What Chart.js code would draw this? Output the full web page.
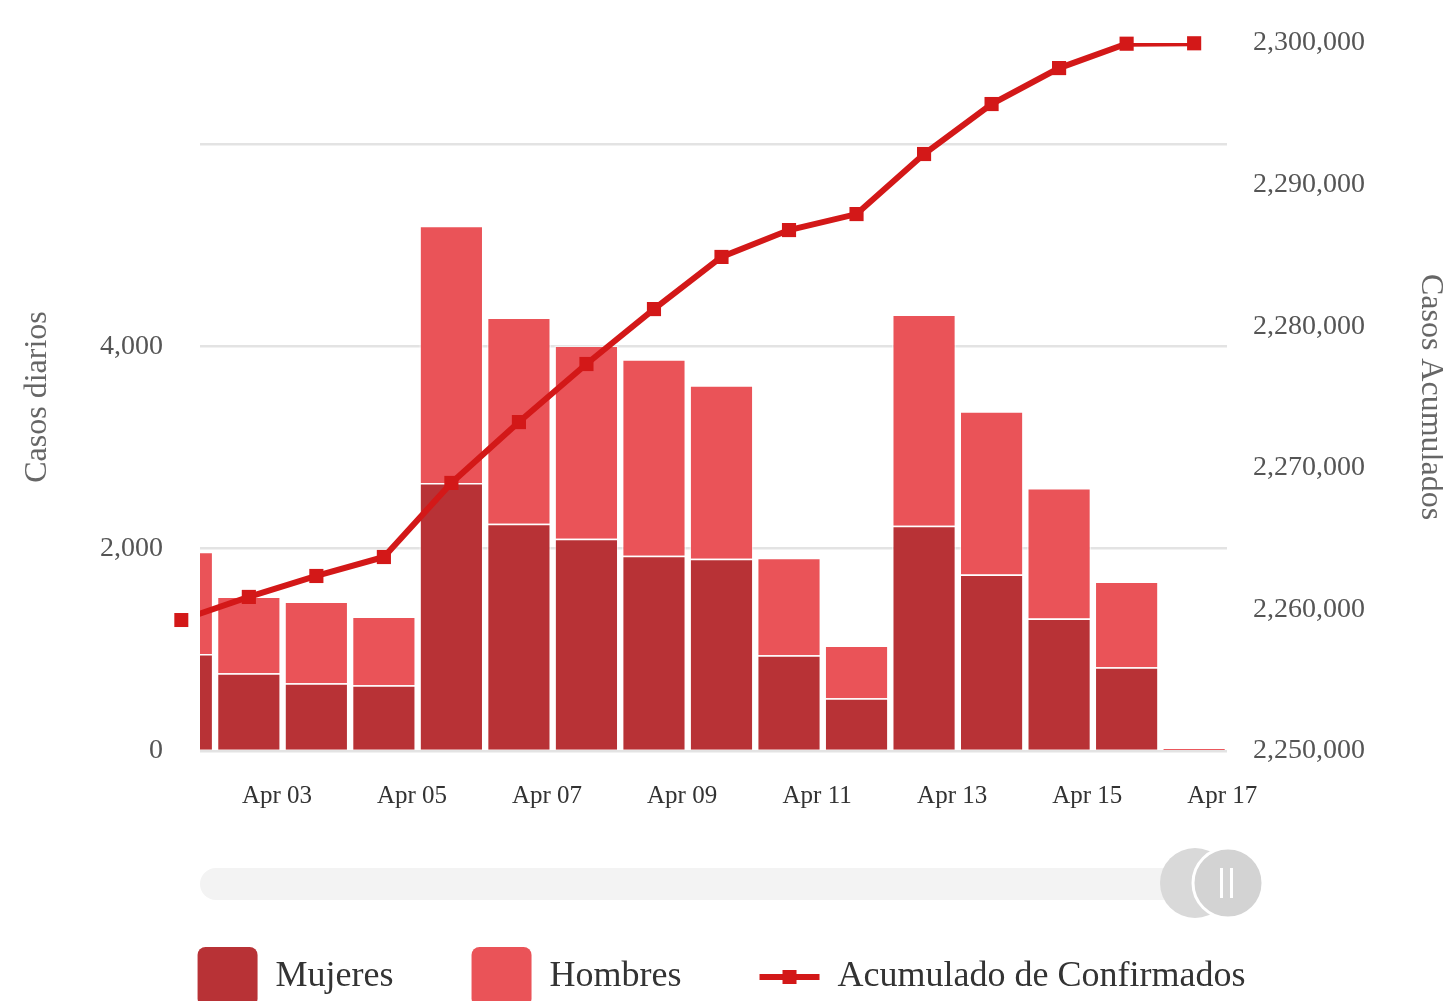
<!DOCTYPE html>
<html>
<head>
<meta charset="utf-8">
<script src="https://cdn.jsdelivr.net/npm/chart.js@4.4.1/dist/chart.umd.min.js"></script>
<style>
  html, body { margin: 0; padding: 0; overflow: hidden; background: #fff; }
  #wrap { position: absolute; left: 0; top: 0; width: 1443px; height: 1017px; }
</style>
</head>
<body>
<div id="wrap"><canvas id="myChart"></canvas></div>
<script>
//DATA (dias de abril)
var dias = [1, 2, 3, 4, 5, 6, 7, 8, 9, 10, 11, 12, 13, 14, 15, 16];
var mujeres = [960, 768, 670, 650, 2650, 2246, 2099, 1931, 1901, 946, 522, 2227, 1744, 1310, 828, 10];
var hombres = [1010, 759, 808, 680, 2542, 2040, 1911, 1941, 1715, 965, 522, 2088, 1616, 1291, 847, 20];
var acumulado = [2259250, 2260880, 2262360, 2263700, 2268930, 2273230, 2277330, 2281210,
                 2284890, 2286790, 2287920, 2292160, 2295690, 2298230, 2299950, 2299980];

var diasEje = [3, 5, 7, 9, 11, 13, 15, 17];
var etiquetasX = ["Apr 03", "Apr 05", "Apr 07", "Apr 09", "Apr 11", "Apr 13", "Apr 15", "Apr 17"];
var ticksIzq = [0, 2000, 4000, 6000];
var etiquetasIzq = ["0", "2,000", "4,000", ""];
var ticksDer = [2250000, 2260000, 2270000, 2280000, 2290000, 2300000];

//hora del dato dentro del dia
var horaDato = 14;
var rangoX = [1.86, 17.07];

var colMujeres = "#b83236",
    colHombres = "#ea5358",
    colLinea = "#d31818",
    fuente = "'Liberation Serif', 'Times New Roman', serif";

function puntos(valores) {
  return dias.map(function(d, i) {
    return { x: d + horaDato / 24, y: valores[i] };
  });
}

//navigator, markers outside the plot, legend line symbol
var extras = {
  id: "extras",
  afterDraw: function(chart) {
    var ctx = chart.ctx,
        area = chart.chartArea;
    ctx.save();

    // markers that chart.js skips because they sit left of the plot
    ctx.fillStyle = colLinea;
    chart.getDatasetMeta(3).data.forEach(function(p) {
      if (p.x < area.left - 5 && !isNaN(p.y)) {
        ctx.fillRect(p.x - 7, p.y - 7, 14, 14);
      }
    });

    // scrollbar track
    ctx.fillStyle = "#f3f3f3";
    ctx.beginPath();
    ctx.roundRect(200, 868, 995, 32, 16);
    ctx.fill();
    // handles
    ctx.fillStyle = "#d9d9d9";
    ctx.beginPath();
    ctx.arc(1195, 883, 35, 0, Math.PI * 2);
    ctx.fill();
    ctx.fillStyle = "#d3d3d3";
    ctx.strokeStyle = "#ffffff";
    ctx.lineWidth = 3;
    ctx.beginPath();
    ctx.arc(1228, 883, 35, 0, Math.PI * 2);
    ctx.fill();
    ctx.stroke();
    ctx.fillStyle = "#ffffff";
    ctx.fillRect(1220, 868, 3, 30);
    ctx.fillRect(1230, 868, 3, 30);

    // legend symbol for the line
    var hb = chart.legend.legendHitBoxes[2];
    if (hb) {
      var cy = hb.top + hb.height / 2;
      ctx.strokeStyle = colLinea;
      ctx.lineWidth = 6;
      ctx.beginPath();
      ctx.moveTo(hb.left, cy);
      ctx.lineTo(hb.left + 60, cy);
      ctx.stroke();
      ctx.fillStyle = colLinea;
      ctx.fillRect(hb.left + 23, cy - 7, 14, 14);
    }
    ctx.restore();
  }
};

var chart = new Chart(document.getElementById("myChart"), {
  type: "bar",
  data: {
    datasets: [
      {
        type: "line",
        label: "Acumulado de Confirmados",
        data: puntos(acumulado),
        yAxisID: "y1",
        borderColor: colLinea,
        backgroundColor: colLinea,
        borderWidth: 6,
        tension: 0,
        pointRadius: 0,
        order: 0
      },
      {
        label: "Mujeres",
        data: puntos(mujeres),
        backgroundColor: colMujeres,
        borderColor: "rgba(255,255,255,0.5)",
        borderWidth: 1.5,
        stack: "casos",
        categoryPercentage: 0.95,
        barPercentage: 1,
        order: 2
      },
      {
        label: "Hombres",
        data: puntos(hombres),
        backgroundColor: colHombres,
        borderColor: "rgba(255,255,255,0.5)",
        borderWidth: 1.5,
        stack: "casos",
        categoryPercentage: 0.95,
        barPercentage: 1,
        order: 2
      },
      {
        // square markers of the line
        type: "line",
        label: "marcadores",
        data: puntos(acumulado),
        yAxisID: "y1",
        showLine: false,
        pointStyle: "rect",
        pointRadius: 10,
        pointHoverRadius: 10,
        pointBackgroundColor: colLinea,
        pointBorderWidth: 0,
        clip: false,
        order: -1
      }
    ]
  },
  options: {
    responsive: true,
    maintainAspectRatio: false,
    animation: false,
    layout: { padding: { top: 43, left: 0, right: 0, bottom: 0 } },
    scales: {
      x: {
        type: "linear",
        min: rangoX[0],
        max: rangoX[1],
        offset: false,
        stacked: true,
        grid: { display: false, drawTicks: false },
        border: { display: false },
        afterBuildTicks: function(scale) {
          scale.ticks = diasEje.map(function(v) { return { value: v }; });
        },
        afterFit: function(scale) { scale.height = 118; },
        ticks: {
          autoSkip: false,
          maxRotation: 0,
          padding: 30,
          color: "#333",
          font: { family: fuente, size: 25 },
          callback: function(v, i) { return etiquetasX[i]; }
        }
      },
      y: {
        position: "left",
        min: 0,
        max: 7000,
        stacked: true,
        afterBuildTicks: function(scale) {
          scale.ticks = ticksIzq.map(function(v) { return { value: v }; });
        },
        afterFit: function(scale) { scale.width = 200; },
        // tick marks hidden, tickLength only pushes the labels left
        grid: { color: "#e3e3e3", lineWidth: 2.5, drawTicks: true, tickLength: 37, tickColor: "rgba(0,0,0,0)" },
        border: { display: false },
        ticks: {
          padding: 0,
          color: "#555",
          font: { family: fuente, size: 28 },
          callback: function(v, i) { return etiquetasIzq[i]; }
        },
        title: {
          display: true,
          text: "Casos diarios",
          color: "#666",
          padding: { top: 18, bottom: 0 },
          font: { family: fuente, size: 32 }
        }
      },
      y1: {
        position: "right",
        min: 2250000,
        max: 2300000,
        afterBuildTicks: function(scale) {
          scale.ticks = ticksDer.map(function(v) { return { value: v }; });
        },
        afterFit: function(scale) { scale.width = 216; },
        grid: { display: false, drawTicks: true, tickLength: 26, tickColor: "rgba(0,0,0,0)" },
        border: { display: false },
        ticks: {
          padding: 0,
          color: "#555",
          font: { family: fuente, size: 28 },
          callback: function(v) { return v.toLocaleString("en-US"); }
        },
        title: {
          display: true,
          text: "Casos Acumulados",
          color: "#666",
          padding: { top: 0, bottom: 0 },
          font: { family: fuente, size: 32, lineHeight: 0.8 }
        }
      }
    },
    plugins: {
      legend: {
        position: "bottom",
        labels: {
          boxWidth: 60,
          boxHeight: 60,
          padding: 78,
          color: "#333",
          font: { family: fuente, size: 36 },
          filter: function(item) { return item.datasetIndex !== 3; },
          generateLabels: function(chart) {
            var items = Chart.defaults.plugins.legend.labels.generateLabels(chart);
            // order: Mujeres, Hombres, Acumulado
            var orden = [1, 2, 0, 3];
            items.sort(function(a, b) { return orden.indexOf(a.datasetIndex) - orden.indexOf(b.datasetIndex); });
            items.forEach(function(it) {
              if (it.datasetIndex === 0) {
                it.fillStyle = "rgba(0,0,0,0)";
                it.strokeStyle = "rgba(0,0,0,0)";
                it.lineWidth = 0;
              } else {
                it.lineWidth = 0;
                it.borderRadius = 8;
              }
            });
            return items;
          }
        }
      },
      tooltip: { enabled: true }
    }
  },
  plugins: [extras]
});
</script>
</body>
</html>
